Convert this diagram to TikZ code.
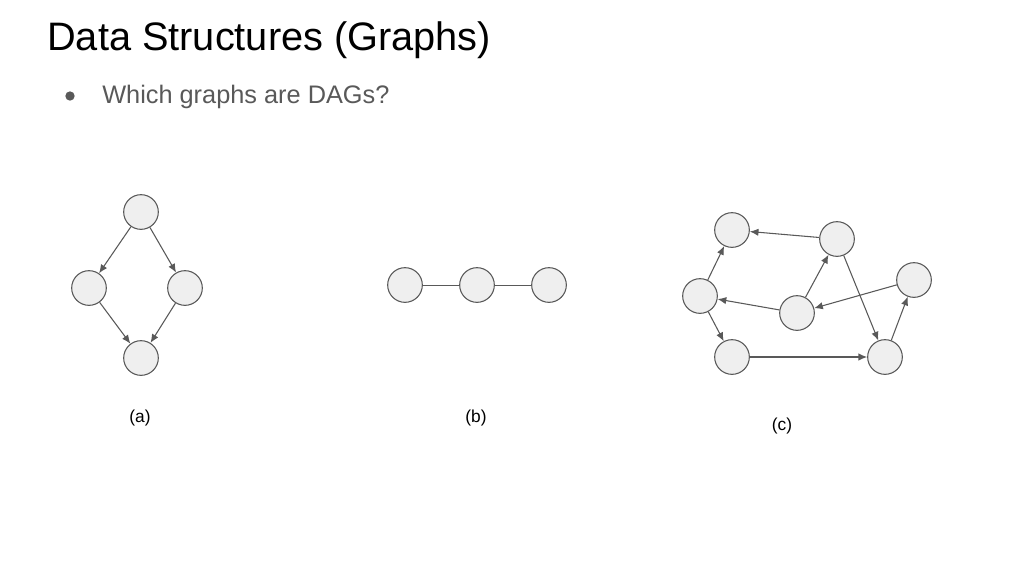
\documentclass[tikz,border=0pt]{standalone}
\usepackage{fontspec}
\setmainfont{Liberation Sans}
\usepackage{xcolor}
\usepackage{tikz}
\usetikzlibrary{arrows.meta}

\definecolor{nodefill}{HTML}{EFEFEF}
\definecolor{linegray}{HTML}{595959}

\begin{document}
\begin{tikzpicture}[x=0.75pt,y=-0.75pt]
			\tikzstyle{value} = [inner sep=0pt]
			\tikzstyle{vertex}=[circle,draw=linegray,fill=nodefill, line width=0.8pt, minimum size=26pt,inner sep=0pt]
			\tikzset{edge/.style = {->,> = {Latex[length=6.5pt,width=5.5pt]}, draw=linegray, line width=0.8pt}}
			\tikzset{link/.style = {draw=linegray, line width=0.7pt}}
			
			\useasboundingbox (0,0) rectangle (1024,576);
			
			% heading
			\node[value, anchor=base west, font=\fontsize{29.8}{35}\selectfont] (title) at (47,50) {Data Structures (Graphs)};
			\node[circle, fill=linegray, minimum size=7pt, inner sep=0pt] (dot) at (70,96) {};
			\node[value, anchor=base west, text=linegray, font=\fontsize{19}{23}\selectfont] (question) at (102,103) {Which graphs are DAGs?};
			
			% (a)
			\node[vertex](a1) at (141,212) {};
			\node[vertex](a2) at (89,288) {};
			\node[vertex](a3) at (185,288) {};
			\node[vertex](a4) at (141,358) {};
			\node[value, font=\fontsize{13}{15}\selectfont](la) at (140,418) {(a)};
			
			\draw[edge] (a1) to (a2);
			\draw[edge] (a1) to (a3);
			\draw[edge] (a2) to (a4);
			\draw[edge] (a3) to (a4);
			
			% (b)
			\node[vertex](b1) at (405,285) {};
			\node[vertex](b2) at (477,285) {};
			\node[vertex](b3) at (549,285) {};
			\node[value, font=\fontsize{13}{15}\selectfont](lb) at (476,418) {(b)};
			
			\draw[link] (b1) -- (b2);
			\draw[link] (b2) -- (b3);
			
			% (c)
			\node[vertex](c1) at (732,230) {};
			\node[vertex](c2) at (837,239) {};
			\node[vertex](c3) at (914,280) {};
			\node[vertex](c4) at (700,296) {};
			\node[vertex](c5) at (797,313) {};
			\node[vertex](c6) at (732,357) {};
			\node[vertex](c7) at (885,357) {};
			\node[value, font=\fontsize{13}{15}\selectfont](lc) at (782,426) {(c)};
			
			\draw[edge] (c2) to (c1);
			\draw[edge] (c4) to (c1);
			\draw[edge] (c5) to (c4);
			\draw[edge] (c5) to (c2);
			\draw[edge] (c3) to (c5);
			\draw[edge] (c2) to (c7);
			\draw[edge] (c7) to (c3);
			\draw[edge] (c4) to (c6);
			\draw[edge] (c6) to (c7);
\end{tikzpicture}
\end{document}
